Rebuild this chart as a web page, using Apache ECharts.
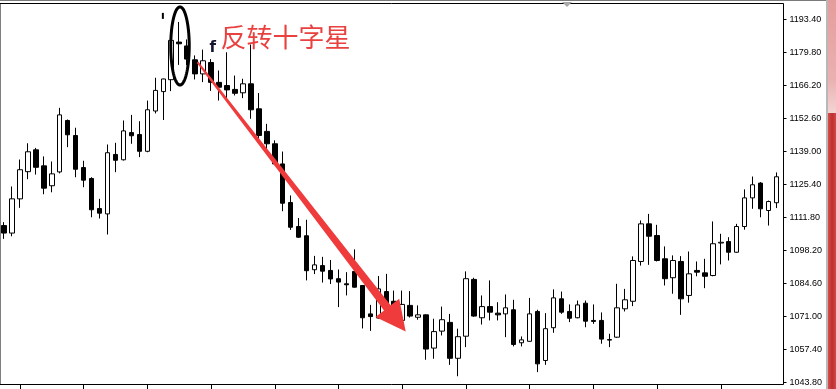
<!DOCTYPE html>
<html>
<head>
<meta charset="utf-8">
<script src="https://cdn.jsdelivr.net/npm/echarts@6/dist/echarts.min.js"></script>
<style>
html,body{margin:0;padding:0;background:#fff;}
#main{width:836px;height:389px;}
</style>
</head>
<body>
<div id="main"></div>
<script>
// ---- data ----
const opens = [
1108.5,1105.4,1119.5,1130.7,1139.7,1133.1,1124.9,1130.6,1151.8,1145.6,
1132.4,1127.9,1115.5,1113.3,1137.8,1135.6,1146.8,1146.0,1139.1,1155.7,
1163.7,1168.6,1184.1,1182.5,1176.8,1171.0,1175.7,1167.5,1166.2,1164.6,
1163.2,1166.9,1156.6,1147.3,1142.2,1133.9,1118.0,1108.1,1104.3,1090.3,
1092.0,1090.0,1086.6,1084.5,1089.6,1083.8,1072.1,1070.4,1081.3,1077.3,
1069.4,1075.6,1070.7,1071.7,1058.0,1065.0,1068.6,1053.8,1062.9,1086.3,
1070.5,1075.1,1072.4,1072.1,1073.8,1060.2,1060.8,1073.1,1052.9,1066.4,
1078.3,1073.1,1070.5,1076.5,1069.4,1069.4,1061.5,1062.5,1074.2,1077.3,
1093.7,1109.2,1104.4,1094.8,1087.0,1093.7,1079.7,1090.0,1089.0,1087.9,
1101.3,1101.9,1097.5,1108.1,1119.9,1126.0,1114.7,1117.9];
const closes = [
1105.4,1119.5,1131.5,1138.9,1132.5,1123.9,1129.8,1154.1,1145.9,1131.7,
1127.2,1115.0,1113.6,1138.5,1135.4,1147.5,1145.5,1139.1,1156.2,1164.2,
1168.9,1184.8,1183.4,1177.1,1171.0,1176.4,1167.5,1165.5,1164.4,1163.0,
1166.9,1156.2,1145.6,1142.2,1133.9,1117.7,1107.8,1103.7,1089.9,1092.3,
1089.7,1086.5,1085.2,1084.1,1083.1,1070.5,1071.0,1082.4,1076.3,1072.8,
1076.0,1071.2,1071.7,1057.6,1064.8,1069.7,1053.8,1062.7,1086.6,1071.2,
1075.1,1072.8,1071.7,1074.6,1059.5,1061.4,1072.1,1051.5,1066.0,1078.7,
1072.8,1070.3,1075.8,1069.1,1069.0,1061.7,1061.3,1074.6,1077.9,1094.1,
1109.2,1104.1,1094.1,1086.6,1094.1,1078.3,1088.6,1089.3,1087.6,1101.0,
1101.6,1097.5,1108.1,1119.9,1125.3,1115.4,1118.4,1128.6];
const lows = [
1103.0,1104.1,1115.8,1127.6,1129.5,1121.4,1122.2,1130.0,1140.8,1128.4,
1124.3,1111.9,1111.4,1104.8,1130.5,1135.3,1142.2,1136.7,1138.7,1154.7,
1152.0,1163.9,1174.7,1174.6,1168.7,1167.6,1164.0,1160.0,1160.0,1162.1,
1161.0,1152.5,1143.6,1139.7,1133.4,1114.4,1106.7,1103.4,1085.9,1088.5,
1085.0,1084.4,1074.9,1079.7,1082.9,1066.1,1065.1,1070.1,1069.4,1068.7,
1068.7,1070.6,1069.7,1053.2,1053.6,1063.2,1051.1,1046.4,1058.4,1070.9,
1067.7,1069.4,1069.4,1062.5,1058.7,1058.7,1060.6,1048.1,1051.1,1064.3,
1072.1,1068.7,1070.3,1066.6,1068.0,1059.8,1058.4,1062.2,1073.1,1075.3,
1092.0,1092.3,1093.7,1083.8,1080.4,1071.7,1076.7,1087.6,1082.7,1087.6,
1092.5,1094.1,1097.3,1106.8,1115.4,1111.9,1108.5,1115.7];
const highs = [
1109.9,1124.6,1135.7,1142.4,1140.5,1137.0,1134.9,1157.0,1152.2,1148.8,
1135.2,1128.4,1119.5,1141.9,1142.6,1151.8,1154.1,1151.5,1160.0,1169.4,
1169.0,1185.6,1192.4,1185.2,1178.6,1181.0,1177.1,1172.4,1179.9,1170.3,
1169.0,1183.1,1163.1,1150.4,1143.6,1139.0,1120.9,1111.6,1110.9,1096.0,
1095.6,1094.3,1090.4,1089.3,1098.7,1084.0,1075.8,1087.7,1088.6,1081.7,
1081.7,1081.5,1075.6,1071.9,1070.1,1075.1,1072.1,1066.0,1089.6,1087.0,
1079.7,1085.9,1076.9,1080.1,1077.9,1062.8,1078.7,1073.8,1072.4,1082.2,
1081.3,1076.0,1077.6,1077.6,1076.0,1072.7,1063.9,1084.5,1082.4,1095.8,
1110.6,1113.3,1108.8,1099.9,1096.2,1095.9,1097.8,1093.7,1094.8,1110.2,
1105.1,1103.7,1109.2,1123.4,1128.7,1126.4,1118.8,1130.4];
const categories = opens.map((_, i) => String(i + 1));
const yTickValues = [1043.8,1057.4,1071.0,1084.6,1098.2,1111.8,1125.4,1139.0,1152.6,1166.2,1179.8,1193.4];
const annotationText = '反转十字星';

// annotation anchors in data space: [category index, price]
const dojiCenter = [22.1, 1182.5];
const dojiRadius = [1.16, 16.1];
const arrowFrom = [24.3, 1175.8];
const arrowTo = [50.44, 1064.8];
const textAnchor = [27.2, 1186.2];
const tickMarkAnchor = [19.95, 1194.9];
const fMarkAnchor = [26.2, 1181.5];

const candleData = opens.map((o, i) => [o, closes[i], lows[i], highs[i]]);

const yMin = 1043, yMax = 1200;

const chart = echarts.init(document.getElementById('main'), null, {renderer: 'canvas'});
const option = {
  animation: false,
  backgroundColor: '#ffffff',
  grid: [
    {left: -3.5, width: 784, top: 3.5, bottom: 4.5, show: false},
    {left: -2, right: 52.5, top: 3.5, bottom: 4.5, show: true,
     backgroundColor: 'transparent', borderColor: '#000', borderWidth: 1}
  ],
  xAxis: [
    {type: 'category', gridIndex: 0, data: categories, boundaryGap: true,
     axisLine: {show: false},
     axisTick: {show: true, alignWithLabel: true, length: 5, inside: false,
       interval: (i) => i % 8 === 2, lineStyle: {color: '#000', width: 1}},
     axisLabel: {show: false}, splitLine: {show: false}},
    {type: 'category', gridIndex: 1, data: categories, show: false}
  ],
  yAxis: [
    {type: 'value', gridIndex: 0, min: yMin, max: yMax, show: false, splitLine: {show: false}},
    {type: 'value', gridIndex: 1, min: yMin, max: yMax, position: 'right',
     axisLine: {show: false},
     axisTick: {show: true, length: 3, inside: false, customValues: yTickValues,
       lineStyle: {color: '#000'}},
     axisLabel: {show: true, customValues: yTickValues, margin: 6,
       formatter: (v) => Number(v).toFixed(2),
       fontFamily: 'Liberation Sans', fontSize: 9, color: '#000'},
     splitLine: {show: false}}
  ],
  series: [{
    type: 'candlestick',
    xAxisIndex: 0, yAxisIndex: 0,
    data: candleData,
    barWidth: 5,
    itemStyle: {
      color: '#ffffff', color0: '#000000',
      borderColor: '#000000', borderColor0: '#000000',
      borderColorDoji: '#000000', borderWidth: 1
    },
    emphasis: {disabled: true}
  }]
};
chart.setOption(option);

// ---- annotations placed through the chart's own scales ----
function toPx(pt) {
  const a = chart.convertToPixel({gridIndex: 0}, [0, pt[1]]);
  const b = chart.convertToPixel({gridIndex: 0}, [1, pt[1]]);
  return [a[0] + pt[0] * (b[0] - a[0]), a[1]];
}
const bandW = toPx([1, yMin])[0] - toPx([0, yMin])[0];
const pxPerPrice = toPx([0, yMin])[1] - toPx([0, yMin + 1])[1];

// ellipse around the doji
const ec = toPx(dojiCenter);
const erx = dojiRadius[0] * bandW, ery = dojiRadius[1] * pxPerPrice;
const ellipsePts = [];
for (let k = 0; k < 96; k++) {
  const t = k / 96 * Math.PI * 2;
  ellipsePts.push([ec[0] + erx * Math.cos(t), ec[1] + ery * Math.sin(t)]);
}

// tapered arrow
const S = toPx(arrowFrom), T = toPx(arrowTo);
const dx = T[0] - S[0], dy = T[1] - S[1];
const L = Math.hypot(dx, dy);
const ux = dx / L, uy = dy / L;
const nx = -uy, ny = ux;
const headLen = 30, headHalf = 15, w0 = 1.0, w1 = 4.2;
const B = [T[0] - ux * headLen, T[1] - uy * headLen];
const arrowPts = [
  [S[0] + nx * w0, S[1] + ny * w0],
  [B[0] + nx * w1, B[1] + ny * w1],
  [B[0] + nx * headHalf, B[1] + ny * headHalf],
  [T[0], T[1]],
  [B[0] - nx * headHalf, B[1] - ny * headHalf],
  [B[0] - nx * w1, B[1] - ny * w1],
  [S[0] - nx * w0, S[1] - ny * w0]
];

const tp = toPx(textAnchor);
const tm = toPx(tickMarkAnchor);
const fm = toPx(fMarkAnchor);

chart.setOption({
  graphic: [
    // window chrome: top line, shift marker, scrollbar
    {type: 'line', silent: true, shape: {x1: 0, y1: 0.5, x2: 826, y2: 0.5},
     style: {stroke: '#7a7a7a', lineWidth: 1}},
    {type: 'polygon', silent: true, shape: {points: [[562, 2], [572, 2], [567, 7]]},
     style: {fill: '#a8a8a8'}},
    {type: 'rect', silent: true, shape: {x: 826, y: 0, width: 10, height: 389},
     style: {fill: '#b8b8b8'}},
    {type: 'rect', silent: true, shape: {x: 828, y: 0, width: 8, height: 113},
     style: {fill: new echarts.graphic.LinearGradient(0, 0, 0, 1, [
       {offset: 0, color: '#e59c9c'}, {offset: 0.7, color: '#eab0b0'}, {offset: 1, color: '#f4d4d4'}])}},
    {type: 'rect', silent: true, shape: {x: 828, y: 113, width: 8, height: 276},
     style: {fill: new echarts.graphic.LinearGradient(0, 0, 1, 0, [
       {offset: 0, color: '#d65050'}, {offset: 0.5, color: '#bf2e2e'}, {offset: 1, color: '#d24848'}])}},
    // annotations
    {type: 'polygon', silent: true, z: 10, shape: {points: ellipsePts},
     style: {fill: 'none', stroke: '#000', lineWidth: 3}},
    {type: 'polygon', silent: true, z: 10, shape: {points: arrowPts},
     style: {fill: '#ef3b3b'}},
    {type: 'text', silent: true, z: 10, x: tp[0], y: tp[1],
     style: {text: annotationText, fill: '#e8413f', font: '26px "Noto Sans CJK SC"',
       textAlign: 'left', textVerticalAlign: 'middle'}},
    {type: 'line', silent: true, z: 10,
     shape: {x1: tm[0], y1: tm[1] - 3, x2: tm[0], y2: tm[1] + 3},
     style: {stroke: '#000', lineWidth: 2}},
    {type: 'text', silent: true, z: 10, x: fm[0], y: fm[1],
     style: {text: 'f', fill: '#14142e', font: 'bold 15px "DejaVu Sans"',
       textAlign: 'center', textVerticalAlign: 'middle'}}
  ]
});
</script>
</body>
</html>
